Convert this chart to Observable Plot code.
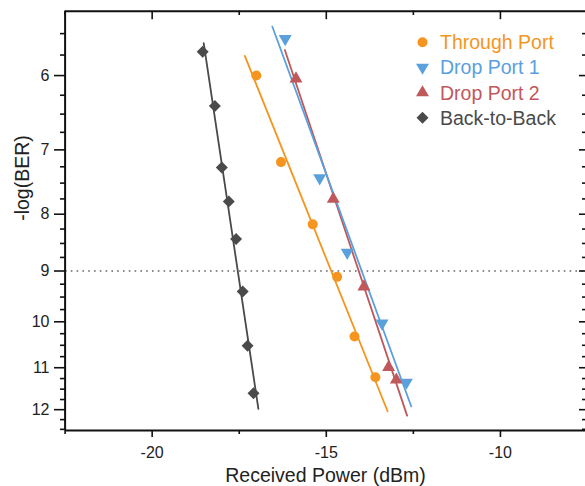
<!DOCTYPE html>
<html>
<head>
<meta charset="utf-8">
<script src="https://cdn.jsdelivr.net/npm/d3@7"></script>
<script src="https://cdn.jsdelivr.net/npm/@observablehq/plot@0.6"></script>
<style>
  html, body { margin: 0; padding: 0; background: #fff; }
  #chart svg { display: block; font-family: "Liberation Sans", Arial, Helvetica, sans-serif; }
</style>
</head>
<body>
<div id="chart"></div>
<script>
// ---- data (received power in dBm, -log(BER)) ----
const seriesNames = ["Through Port", "Drop Port 1", "Drop Port 2", "Back-to-Back"];

const throughX = [-17.01, -16.30, -15.39, -14.69, -14.19, -13.59];
const throughY = [6.00, 7.18, 8.17, 9.11, 10.31, 11.22];
const throughFitX = [-17.34, -13.24];
const throughFitY = [5.76, 12.04];

const drop1X = [-16.18, -15.19, -14.40, -13.40, -12.70];
const drop1Y = [5.56, 7.42, 8.66, 10.03, 11.34];
const drop1FitX = [-16.55, -12.56];
const drop1FitY = [5.42, 11.92];

const drop2X = [-15.87, -14.80, -13.92, -13.21, -12.99];
const drop2Y = [6.04, 7.75, 9.30, 10.99, 11.28];
const drop2FitX = [-16.19, -12.68];
const drop2FitY = [5.69, 12.15];

const b2bX = [-18.55, -18.20, -18.00, -17.80, -17.59, -17.40, -17.26, -17.09];
const b2bY = [5.71, 6.39, 7.26, 7.79, 8.42, 9.39, 10.51, 11.60];
const b2bFitX = [-18.52, -16.95];
const b2bFitY = [5.61, 11.98];

const thresholdY = [9];

const xMajorTicks = [-20, -15, -10];
const xMinorTicks = [-22.5, -17.5, -12.5];
const yMajorTicks = [6, 7, 8, 9, 10, 11, 12];
const yMinorTicks = [5.5, 5.75, 6.25, 6.5, 6.75, 7.25, 7.5, 7.75, 8.25, 8.5, 8.75,
  9.25, 9.5, 9.75, 10.25, 10.5, 10.75, 11.25, 11.5, 11.75, 12.25, 12.5];

const xDomain = [-22.5, -7.5];
const yDomain = [5.25, 12.53];

// ---- build tables ----
const zip = (xs, ys) => xs.map((x, i) => ({x, y: ys[i]}));
const colors = ["#F5951F", "#5AA0DC", "#C0585B", "#4A4A4A"];

const triangleDown = {
  draw(context, size) {
    const s3 = Math.sqrt(3);
    const y = -Math.sqrt(size / (s3 * 3));
    context.moveTo(0, -y * 2);
    context.lineTo(-s3 * y, y);
    context.lineTo(s3 * y, y);
    context.closePath();
  }
};
const symbols = ["circle", triangleDown, "triangle", "diamond2"];
const radii = [5, 4.8, 4.8, 5.4];

const series = [
  {pts: zip(throughX, throughY), fit: zip(throughFitX, throughFitY)},
  {pts: zip(drop1X, drop1Y), fit: zip(drop1FitX, drop1FitY)},
  {pts: zip(drop2X, drop2Y), fit: zip(drop2FitX, drop2FitY)},
  {pts: zip(b2bX, b2bY), fit: zip(b2bFitX, b2bFitY)}
];

const W = 585, H = 486;
const mLeft = 65, mTop = 10.7, mBottom = H - 430, mRight = 0;
const frameW = W - mLeft - mRight, frameH = H - mTop - mBottom;
const font = "Liberation Sans, Arial, Helvetica, sans-serif";

const marks = [];
// dotted threshold
marks.push(Plot.ruleY(thresholdY, {stroke: "#666", strokeWidth: 1.6, strokeDasharray: "1.6,4.2"}));
// fit lines then markers (draw order: back-to-back, through, drop2, drop1)
[3, 0, 2, 1].forEach(i => {
  marks.push(Plot.line(series[i].fit, {x: "x", y: "y", stroke: colors[i], strokeWidth: 1.8}));
});
[3, 0, 2, 1].forEach(i => {
  marks.push(Plot.dot(series[i].pts, {x: "x", y: "y", fill: colors[i], stroke: "none", symbol: symbols[i], r: radii[i]}));
});
// frame lines (left, top, bottom)
marks.push(Plot.ruleX([xDomain[0]], {stroke: "#111", strokeWidth: 2}));
marks.push(Plot.ruleY([yDomain[0]], {stroke: "#111", strokeWidth: 2}));
marks.push(Plot.ruleY([yDomain[1]], {stroke: "#111", strokeWidth: 2}));
// axes
marks.push(Plot.axisX({anchor: "bottom", ticks: xMajorTicks, tickSize: 7, tickPadding: 9, fontSize: 16, label: null, tickFormat: d => String(d).replace("\u2212", "-"), stroke: "#111", strokeWidth: 1.6, color: "#222"}));
marks.push(Plot.axisX({anchor: "bottom", ticks: xMinorTicks, tickSize: 4, tickFormat: () => "", label: null, stroke: "#111", strokeWidth: 1.6}));
marks.push(Plot.axisY({anchor: "left", ticks: yMajorTicks, tickSize: 11, tickPadding: 5, fontSize: 16, label: null, tickFormat: d => String(d), stroke: "#111", strokeWidth: 1.6, color: "#222"}));
marks.push(Plot.axisY({anchor: "left", ticks: yMinorTicks, tickSize: 5, tickFormat: () => "", label: null, stroke: "#111", strokeWidth: 1.6}));
// inward ticks on top and right
marks.push(Plot.tickX(xMajorTicks, {x: d => d, insetBottom: frameH - 8.5, stroke: "#111", strokeWidth: 1.6}));
marks.push(Plot.tickX(xMinorTicks, {x: d => d, insetBottom: frameH - 4.3, stroke: "#111", strokeWidth: 1.6}));
marks.push(Plot.tickY(yMajorTicks, {y: d => d, insetLeft: frameW - 6, stroke: "#111", strokeWidth: 1.6}));
marks.push(Plot.tickY(yMinorTicks, {y: d => d, insetLeft: frameW - 3, stroke: "#111", strokeWidth: 1.6}));
// axis titles
marks.push(Plot.text(["Received Power (dBm)"], {text: d => d, frameAnchor: "bottom", dy: 45.5, fontSize: 19.5, fill: "#222", lineAnchor: "middle"}));
marks.push(Plot.text(["-log(BER)"], {text: d => d, frameAnchor: "left", dx: -43, rotate: -90, fontSize: 19.5, fill: "#222", lineAnchor: "middle"}));
// legend
seriesNames.forEach((name, i) => {
  const dy = 31 + i * 25.2;
  marks.push(Plot.dot([name], {frameAnchor: "top-left", dx: 357, dy, fill: colors[i], stroke: "none", symbol: symbols[i], r: radii[i]}));
  marks.push(Plot.text([name], {text: d => d, frameAnchor: "top-left", dx: 374.5, dy: dy + 0.8, textAnchor: "start", lineAnchor: "middle", fontSize: 19.5, fill: colors[i]}));
});

const chart = Plot.plot({
  width: W,
  height: H,
  marginLeft: mLeft,
  marginRight: mRight,
  marginTop: mTop,
  marginBottom: mBottom,
  style: {fontFamily: font, background: "#fff"},
  x: {domain: xDomain, range: [64.6, 587]},
  y: {type: "log", domain: yDomain, range: [mTop, 430]},
  marks
});
document.getElementById("chart").append(chart);
</script>
</body>
</html>
